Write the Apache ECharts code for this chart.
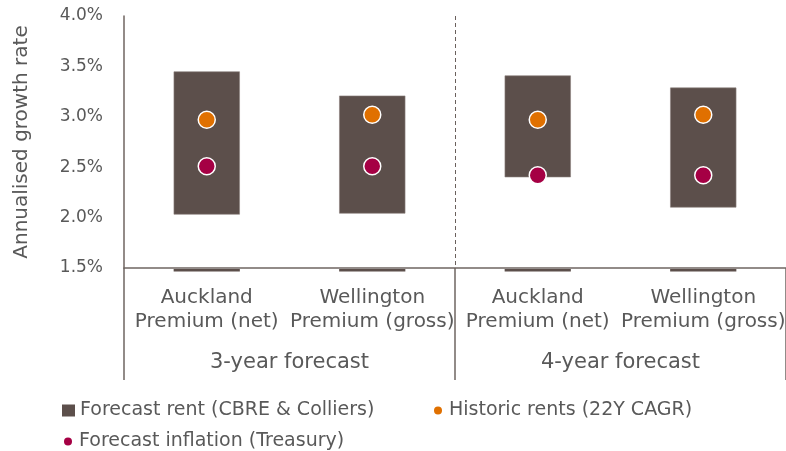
<!DOCTYPE html>
<html>
<head>
<meta charset="utf-8">
<script src="https://cdn.jsdelivr.net/npm/echarts@6/dist/echarts.min.js"></script>
<style>
  html, body { margin: 0; padding: 0; background: #fff; }
  #chart { width: 786px; height: 451px; }
</style>
</head>
<body>
<div id="chart"></div>
<script>
// categories & values
var categories = ['Auckland\nPremium (net)', 'Wellington\nPremium (gross)', 'Auckland\nPremium (net)', 'Wellington\nPremium (gross)'];
var groups = ['3-year forecast', '4-year forecast'];
var rentLow = [2.03, 2.04, 2.40, 2.10];
var rentHigh = [3.45, 3.21, 3.41, 3.29];
var historic = [2.97, 3.02, 2.97, 3.02];
var inflation = [2.51, 2.51, 2.42, 2.42];

var textColor = '#595959';
var axisColor = '#6f6561';
var barColor = '#5c4f4b';
var font = 'DejaVu Sans';

var chart = echarts.init(document.getElementById('chart'), null, { renderer: 'canvas' });

// floating bar = transparent base + visible span
var rentSpan = rentHigh.map(function (v, i) {
  return +(v - rentLow[i]).toFixed(2);
});

var legendText = { fontFamily: font, fontSize: 19, color: textColor };
var legendItem = { borderWidth: 0 };

var option = {
  animation: false,
  textStyle: { fontFamily: font, color: textColor },
  grid: { left: 124, right: 0, top: 16, bottom: 183, outerBoundsMode: 'none', containLabel: false },
  legend: [{
    data: ['Forecast rent (CBRE & Colliers)'],
    left: 57, top: 396,
    itemWidth: 13, itemHeight: 12,
    icon: 'rect',
    itemStyle: legendItem,
    textStyle: legendText
  }, {
    data: ['Historic rents (22Y CAGR)'],
    left: 429, top: 396,
    itemWidth: 8, itemHeight: 8,
    icon: 'circle',
    itemStyle: legendItem,
    textStyle: Object.assign({ padding: [0, 0, 0, 2] }, legendText)
  }, {
    data: ['Forecast inflation (Treasury)'],
    left: 59, top: 427,
    itemWidth: 8, itemHeight: 8,
    icon: 'circle',
    itemStyle: legendItem,
    textStyle: Object.assign({ padding: [0, 0, 0, 2] }, legendText)
  }],
  xAxis: [{
    type: 'category',
    data: categories,
    z: 1,
    axisLine: { show: true, lineStyle: { color: axisColor, width: 1.5 } },
    axisTick: { show: false },
    axisLabel: {
      interval: 0, color: textColor, fontFamily: font, fontSize: 20,
      lineHeight: 24, margin: 18
    }
  }, {
    type: 'category',
    position: 'bottom',
    data: groups,
    z: 0,
    axisLine: { show: false },
    axisTick: { show: true, length: 112, inside: false, lineStyle: { color: axisColor, width: 1.5 } },
    axisLabel: { color: textColor, fontFamily: font, fontSize: 21, margin: 84 },
    // only the middle separator is dashed inside the plot
    splitLine: {
      show: true,
      interval: 0,
      lineStyle: { color: ['transparent', '#6a605c', 'transparent'], type: [4, 3], width: 1 }
    }
  }],
  yAxis: {
    type: 'value',
    z: 2,
    min: 1.5, max: 4.0, interval: 0.5,
    name: 'Annualised growth rate',
    nameLocation: 'middle',
    nameGap: 92,
    nameTextStyle: { color: textColor, fontFamily: font, fontSize: 20 },
    axisLine: { show: true, lineStyle: { color: axisColor, width: 1.5 } },
    axisTick: { show: false },
    splitLine: { show: false },
    axisLabel: {
      color: textColor, fontFamily: font, fontSize: 17, margin: 21,
      formatter: function (v) { return v.toFixed(1) + '%'; }
    }
  },
  series: [{
    name: 'base',
    type: 'bar',
    stack: 'rent',
    barWidth: '40%',
    itemStyle: { color: 'transparent' },
    data: rentLow
  }, {
    name: 'Forecast rent (CBRE & Colliers)',
    type: 'bar',
    stack: 'rent',
    barWidth: '40%',
    itemStyle: { color: barColor, borderColor: '#8a7f7c', borderWidth: 0.6 },
    data: rentSpan
  }, {
    // thin base strip under the axis line, like the original
    name: 'strip',
    type: 'custom',
    silent: true,
    clip: false,
    renderItem: function (params, api) {
      var p = api.coord([api.value(0), 1.5]);
      var w = api.size([1, 0])[0] * 0.4;
      return {
        type: 'rect',
        shape: { x: p[0] - w / 2, y: p[1] + 1, width: w, height: 2.5 },
        style: { fill: barColor }
      };
    },
    data: [0, 1, 2, 3]
  }, {
    name: 'Historic rents (22Y CAGR)',
    type: 'scatter',
    symbolSize: 17,
    z: 5,
    itemStyle: { color: '#e07000', borderColor: '#fff', borderWidth: 1.5, opacity: 1 },
    data: historic
  }, {
    name: 'Forecast inflation (Treasury)',
    type: 'scatter',
    symbolSize: 17,
    z: 5,
    itemStyle: { color: '#a50044', borderColor: '#fff', borderWidth: 1.5, opacity: 1 },
    data: inflation
  }]
};

chart.setOption(option);
</script>
</body>
</html>
